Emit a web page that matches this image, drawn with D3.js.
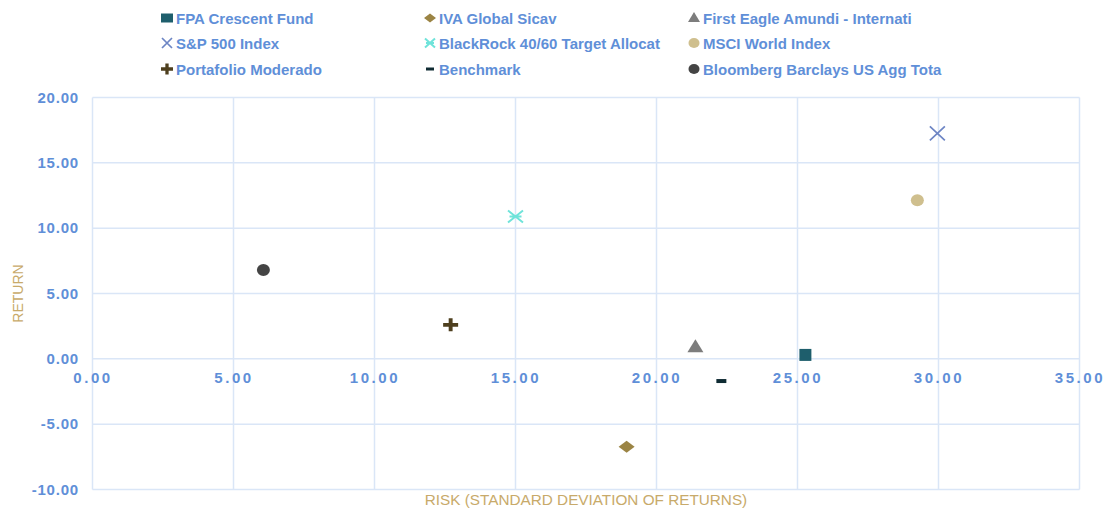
<!DOCTYPE html>
<html>
<head>
<meta charset="utf-8">
<script src="https://cdn.jsdelivr.net/npm/d3@7"></script>
<style>
body { margin: 0; background: #fff; }
text { font-family: "Liberation Sans", Arial, sans-serif; }
</style>
</head>
<body>
<div id="chart"></div>
<script>
var names = ["FPA Crescent Fund", "IVA Global Sicav", "First Eagle Amundi - Internati",
	"S&P 500 Index", "BlackRock 40/60 Target Allocat", "MSCI World Index",
	"Portafolio Moderado", "Benchmark", "Bloomberg Barclays US Agg Tota"]
var risk = [25.28, 18.94, 21.38, 29.96, 15.0, 29.25, 12.7, 22.3, 6.06]
var ret = [0.3, -6.72, 0.9, 17.25, 10.9, 12.14, 2.6, -1.7, 6.8]
var shapes = ["square", "diamond", "triangle", "x", "star", "circle", "plus", "dash", "circle"]
var colors = ["#1e5e6c", "#9b8444", "#7d7d7d", "#6d85c4", "#6fe3da", "#cfbf8e", "#4e3f1e", "#0f2b33", "#444444"]
var xTicks = [0, 5, 10, 15, 20, 25, 30, 35]
var yTicks = [-10, -5, 0, 5, 10, 15, 20]

var width = 1110, height = 512
var svg = d3.select("#chart").append("svg").attr("width", width).attr("height", height)

var x = d3.scaleLinear().domain([0, 35]).range([92.5, 1079.5])
var y = d3.scaleLinear().domain([-10, 20]).range([489.5, 97.5])
var fmt = function(d){return d.toFixed(2)}

var grid = "#dae6f7"
var tickColor = "#5f8fd8"
var titleColor = "#c8aa6a"

// grid
svg.append("g").selectAll("line").data(xTicks).enter().append("line")
	.attr("x1", function(d){return x(d)}).attr("x2", function(d){return x(d)})
	.attr("y1", y(20)).attr("y2", y(-10))
	.attr("stroke", grid).attr("stroke-width", 1.5)
svg.append("g").selectAll("line").data(yTicks).enter().append("line")
	.attr("y1", function(d){return y(d)}).attr("y2", function(d){return y(d)})
	.attr("x1", x(0)).attr("x2", x(35))
	.attr("stroke", grid).attr("stroke-width", 1.5)

// y tick labels
svg.append("g").selectAll("text").data(yTicks).enter().append("text")
	.text(fmt)
	.attr("x", 79).attr("y", function(d){return y(d) + 5})
	.attr("text-anchor", "end")
	.attr("fill", tickColor).style("font-size", "15px").style("font-weight", "bold").style("letter-spacing", "0.8px")

// x tick labels sit just under the zero line, spaced out
svg.append("g").selectAll("text").data(xTicks).enter().append("text")
	.text(fmt)
	.attr("x", function(d){return x(d) + 0.5}).attr("y", y(0) + 24)
	.attr("text-anchor", "middle")
	.attr("fill", tickColor).style("font-size", "15px").style("font-weight", "bold").style("letter-spacing", "2.6px")

// axis titles
svg.append("text").text("RISK (STANDARD DEVIATION OF RETURNS)")
	.attr("x", (x(0) + x(35)) / 2).attr("y", 505)
	.attr("text-anchor", "middle").attr("fill", titleColor).style("font-size", "15.3px")
svg.append("text").text("RETURN")
	.attr("transform", "translate(23," + ((y(20) + y(-10)) / 2) + ") rotate(-90)")
	.attr("text-anchor", "middle").attr("fill", titleColor).style("font-size", "14px")

function symbolPath(shape, w, h) {
	if (shape == "square") return "M" + (-w / 2) + "," + (-h / 2) + "h" + w + "v" + h + "h" + (-w) + "Z"
	if (shape == "diamond") return "M0," + (-h / 2) + "L" + (w / 2) + ",0L0," + (h / 2) + "L" + (-w / 2) + ",0Z"
	if (shape == "triangle") return "M0," + (-h * 0.6) + "L" + (w / 2) + "," + (h * 0.4) + "L" + (-w / 2) + "," + (h * 0.4) + "Z"
	if (shape == "circle") return "M" + (-w / 2) + ",0A" + (w / 2) + "," + (h / 2) + " 0 1,0 " + (w / 2) + ",0A" + (w / 2) + "," + (h / 2) + " 0 1,0 " + (-w / 2) + ",0Z"
	if (shape == "dash") return "M" + (-w / 2) + "," + (-h / 2) + "h" + w + "v" + h + "h" + (-w) + "Z"
	if (shape == "plus") {
		var t = h * 0.3
		return "M" + (-t / 2) + "," + (-h / 2) + "h" + t + "v" + (h / 2 - t / 2) + "H" + (w / 2) + "v" + t + "H" + (t / 2) + "V" + (h / 2) + "h" + (-t) + "V" + (t / 2) + "H" + (-w / 2) + "v" + (-t) + "H" + (-t / 2) + "Z"
	}
	return null
}

// marker sizes [w, h] for plot and legend
var plotSize = {square: [12, 12], diamond: [16, 12], triangle: [16, 13], x: [15, 14], star: [15, 12], circle: [13, 12], plus: [15, 13], dash: [10, 4]}
var legendSize = {square: [12, 9], diamond: [12, 9], triangle: [12, 10], x: [10, 10], star: [10, 9], circle: [11, 10], plus: [12, 11], dash: [8, 3]}

function drawMarker(g, shape, color, sz) {
	var w = sz[0] / 2, h = sz[1] / 2
	if (shape == "x") {
		g.append("path").attr("d", "M" + (-w) + "," + (-h) + "L" + w + "," + h + "M" + (-w) + "," + h + "L" + w + "," + (-h))
			.attr("stroke", color).attr("stroke-width", 1.7).attr("fill", "none")
	} else if (shape == "star") {
		g.append("path").attr("d", "M" + (-w) + "," + (-h) + "L" + w + "," + h + "M" + (-w) + "," + h + "L" + w + "," + (-h) + "M" + (-w * 0.8) + ",0L" + (w * 0.8) + ",0")
			.attr("stroke", color).attr("stroke-width", 2).attr("fill", "none")
	} else {
		g.append("path").attr("d", symbolPath(shape, sz[0], sz[1])).attr("fill", color)
	}
}

// points
names.forEach(function(n, i) {
	var g = svg.append("g").attr("transform", "translate(" + x(risk[i]) + "," + y(ret[i]) + ")")
	drawMarker(g, shapes[i], colors[i], plotSize[shapes[i]])
})

// legend, 3 columns
var legendX = [167, 430, 694]
var legendY = [18, 43, 69]
names.forEach(function(n, i) {
	var lx = legendX[i % 3], ly = legendY[Math.floor(i / 3)]
	var g = svg.append("g").attr("transform", "translate(" + lx + "," + ly + ")")
	drawMarker(g, shapes[i], colors[i], legendSize[shapes[i]])
	g.append("text").text(n).attr("x", 9).attr("y", 5.5)
		.attr("fill", tickColor).style("font-size", "15px").style("font-weight", "bold")
})
</script>
</body>
</html>
